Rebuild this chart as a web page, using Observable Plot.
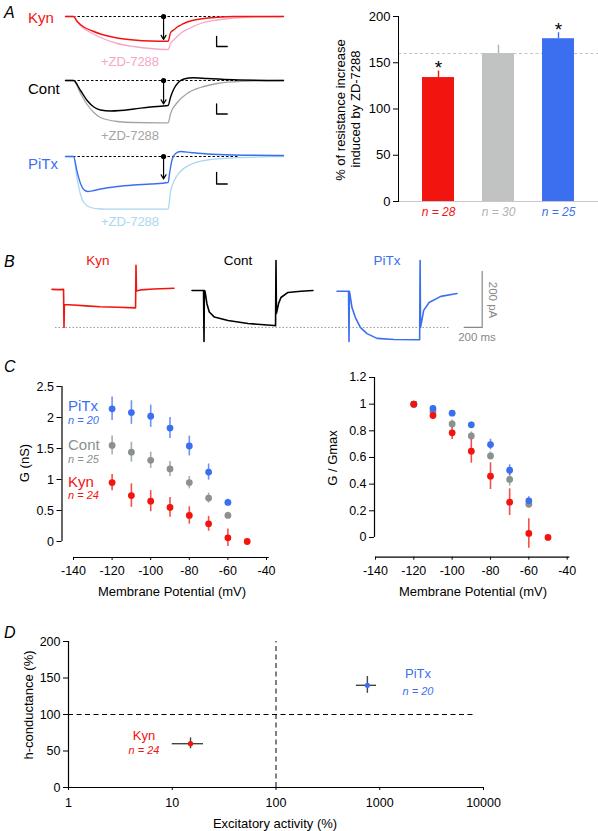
<!DOCTYPE html>
<html><head><meta charset="utf-8">
<script src="https://cdn.jsdelivr.net/npm/d3@7"></script>
<script src="https://cdn.jsdelivr.net/npm/@observablehq/plot@0.6"></script>
<style>
body{margin:0;background:#fff;}
#root{position:relative;width:598px;height:831px;overflow:hidden;font-family:"Liberation Sans",Arial,sans-serif;}
.lbl{position:absolute;white-space:nowrap;line-height:1;}
</style></head><body><div id="root"></div>
<script>
// ---------------- DATA ----------------
// Panel A: voltage traces (time ms, mV relative to baseline)
const kynA   = [[-42,0],[0,0],[20,-1.0],[54,-2.1],[100,-2.9],[142,-3.5],[230,-4.3],[318,-4.7],[405,-4.9],[498,-4.95],[511,-3.2],[530,-2.6],[546,-2.1],[570,-1.6],[598,-1.1],[630,-0.75],[668,-0.5],[756,-0.15],[844,0],[1105,0]];
const kynZD  = [[-42,0],[0,0],[20,-1.1],[54,-2.4],[100,-3.4],[142,-4.2],[230,-5.4],[318,-6.0],[405,-6.4],[498,-6.6],[511,-5.4],[530,-4.6],[546,-4.0],[570,-3.2],[598,-2.6],[668,-1.4],[756,-0.7],[844,-0.3],[932,-0.1],[1105,0]];
const contA  = [[-42,0],[0,0],[37,-2.0],[72,-4.0],[107,-5.3],[142,-5.9],[195,-6.1],[247,-6.0],[318,-5.7],[405,-5.3],[498,-5.0],[511,-3.3],[528,-1.7],[554,-0.3],[581,0.3],[633,0.55],[704,0.4],[844,0.15],[1105,0]];
const contZD = [[-42,0],[0,0],[37,-2.6],[72,-4.8],[107,-6.4],[142,-7.4],[230,-8.2],[318,-8.4],[498,-8.46],[511,-6.6],[546,-4.4],[598,-2.6],[668,-1.4],[756,-0.6],[844,-0.26],[932,-0.1],[1105,0]];
const pitxA  = [[-42,0],[0,0],[19,-3.0],[37,-5.4],[54,-6.6],[75,-7.0],[107,-6.8],[142,-6.5],[230,-6.0],[318,-5.7],[405,-5.5],[498,-5.2],[507,-3.0],[519,-0.6],[537,0.6],[563,1.0],[616,0.8],[704,0.5],[844,0.3],[1105,0.2]];
const pitxZD = [[-42,0],[0,0],[19,-4.4],[37,-7.6],[54,-9.2],[89,-10.2],[142,-10.5],[318,-10.54],[498,-10.54],[511,-7.0],[528,-5.0],[563,-3.0],[616,-1.6],[704,-0.7],[844,-0.26],[1019,-0.06],[1105,0]];
const baselineSpan = [0, 868];          // dashed baseline (ms)
const measureTime = 474;                 // arrow time (ms)
const measureDrop = [-4.6, -4.7, -4.5];  // arrow tips (Kyn, Cont, PiTx)
const scaleBarA_T = [753, 809];
const scaleBarA_V = [[-4.0,-6.0],[-4.7,-6.7],[-3.2,-5.5]];

// Panel A: bar chart
const barCats   = ["Kyn","Cont","PiTx"];
const barValues = [134, 160, 176];
const barErrors = [7, 9, 6.5];
const barN      = ["n = 28","n = 30","n = 25"];
const barStars  = ["*","","*"];
const barRef    = 160;

// Panel B: current traces (ms, pA)
const kynB  = [[-133,4],[-60,3],[-5,4],[0,-132],[4,-50],[100,-52],[250,-55],[400,-58],[600,-60],[795,-62],[800,90],[805,-2],[850,2],[1000,5],[1222,8]];
const contB = [[-133,0],[-5,0],[0,-182],[4,0],[11,-2],[33,-48],[59,-77],[115,-95],[267,-107],[489,-118],[778,-125],[795,-126],[800,107],[805,-82],[830,-45],[855,-25],[933,-7],[1077,-3],[1211,0]];
const pitxB = [[-133,-3],[-5,-3],[0,-182],[4,-3],[10,-12],[33,-61],[70,-96],[126,-132],[200,-154],[311,-171],[500,-175],[785,-176],[790,107],[795,-132],[830,-71],[890,-43],[1020,-21],[1200,-11]];
const steadyRefB = -132;
const scaleBarB_T = [1280, 1480];
const scaleBarB_I = [-132, 68];

// Panel C
const voltages = [-120,-110,-100,-90,-80,-70,-60,-50];
const gPiTx    = [2.14, 2.08, 2.02, 1.83, 1.54, 1.12, 0.63];
const gPiTxErr = [0.19, 0.19, 0.18, 0.17, 0.16, 0.13, 0.05];
const gCont    = [1.55, 1.44, 1.31, 1.17, 0.95, 0.70, 0.42];
const gContErr = [0.15, 0.16, 0.13, 0.12, 0.10, 0.08, 0.05];
const gKyn     = [0.95, 0.74, 0.65, 0.55, 0.42, 0.285, 0.06, 0.0];
const gKynErr  = [0.13, 0.19, 0.17, 0.16, 0.14, 0.12, 0.14, 0.03];
const nPiTx    = [1.0, 0.968, 0.932, 0.845, 0.697, 0.505, 0.275];
const nPiTxErr = [0, 0.02, 0.02, 0.02, 0.04, 0.04, 0.03];
const nCont    = [1.0, 0.945, 0.852, 0.762, 0.612, 0.435, 0.25];
const nContErr = [0, 0.02, 0.03, 0.03, 0.03, 0.05, 0.03];
const nKyn     = [1.0, 0.915, 0.785, 0.647, 0.46, 0.265, 0.03, 0.0];
const nKynErr  = [0, 0.03, 0.05, 0.09, 0.10, 0.10, 0.11, 0.0];

// Panel D
const dCats  = ["Kyn","PiTx"];
const dX     = [15, 760];
const dXLo   = [10, 595];
const dXHi   = [20, 930];
const dY     = [60, 140];
const dYLo   = [53, 129];
const dYHi   = [68, 152];
const dRefX  = 100, dRefY = 100, dRefYEnd = 8000;

// ---------------- STYLE ----------------
const RED="#f2140f", BLUE="#3c6ff0", GRAYD="#8a918e", GRAYBAR="#c0c3c1";
const PINK="#f7a6c8", LBLUE="#a8d8f0", ZDGRAY="#a4a4a4";
const FONT='"Liberation Sans", Arial, sans-serif';
const TICK=12.5;
const root=document.getElementById("root");
const baseStyle={fontFamily:FONT,fontSize:"12.5px",background:"transparent",overflow:"visible",color:"#000"};
function put(el,left,top){el.style.position="absolute";el.style.left=left+"px";el.style.top=top+"px";root.appendChild(el);}
function txt(s,x,y,o={}){
  const d=document.createElement("div");d.className="lbl";d.textContent=s;
  d.style.left=x+"px";d.style.top=y+"px";d.style.fontSize=(o.size||13)+"px";d.style.color=o.color||"#000";
  if(o.italic)d.style.fontStyle="italic";
  const a=o.anchor||"start";const tx=a==="start"?"0":a==="middle"?"-50%":"-100%";
  d.style.transform=`translate(${o.rotate?"-50%":tx},-50%)`+(o.rotate?` rotate(${o.rotate}deg)`:"");
  root.appendChild(d);
}
const px=d=>d[0], py=d=>d[1];

// ---------------- PANEL A traces ----------------
function tracePlotA(ctrl,zd,cCol,zCol,i){
  const sb=[[scaleBarA_T[0],scaleBarA_V[i][0]],[scaleBarA_T[0],scaleBarA_V[i][1]],[scaleBarA_T[1],scaleBarA_V[i][1]]];
  return Plot.plot({
    width:300,height:70,marginTop:5,marginBottom:5,marginLeft:65,marginRight:17,
    x:{domain:[-42,1105],axis:null},y:{domain:[-11,1],axis:null},style:baseStyle,
    marks:[
      Plot.ruleY([0],{x1:baselineSpan[0],x2:baselineSpan[1],stroke:"#000",strokeWidth:1,strokeDasharray:"2.5,2"}),
      Plot.line(zd,{x:px,y:py,stroke:zCol,strokeWidth:1.3,curve:"monotone-x"}),
      Plot.line(ctrl,{x:px,y:py,stroke:cCol,strokeWidth:1.4,curve:"monotone-x"}),
      Plot.arrow([measureDrop[i]],{x1:measureTime,y1:0,x2:measureTime,y2:d=>d,stroke:"#000",strokeWidth:1.2,headLength:6}),
      Plot.dot([0],{x:measureTime,y:d=>d,r:2.6,fill:"#000"}),
      Plot.line(sb,{x:px,y:py,stroke:"#000",strokeWidth:1.3})
    ]});
}
put(tracePlotA(kynA,kynZD,RED,PINK,0),0,6);
put(tracePlotA(contA,contZD,"#000",ZDGRAY,1),0,70);
put(tracePlotA(pitxA,pitxZD,BLUE,LBLUE,2),0,146);

// ---------------- PANEL A bars ----------------
const barColors=[RED,GRAYBAR,BLUE];
const errColors=[RED,"#aeb2b0",BLUE];
const nColors=[RED,"#b0b4b2",BLUE];
const bars=barCats.map((c,i)=>({c,v:barValues[i],e:barErrors[i],fill:barColors[i],ec:errColors[i],n:barN[i],nc:nColors[i],s:barStars[i]}));
put(Plot.plot({
  width:298,height:230,marginTop:16,marginBottom:29,marginLeft:98,marginRight:0,
  x:{domain:barCats,paddingInner:0.475,paddingOuter:0.377,axis:null},
  y:{domain:[0,200],axis:null},
  color:{type:"identity"},style:{...baseStyle,fontSize:"13px"},
  marks:[
    Plot.ruleY([barRef],{stroke:"#c4c4c4",strokeDasharray:"3,2.5"}),
    Plot.ruleX(bars,{x:"c",y1:"v",y2:d=>d.v+d.e,stroke:"ec",strokeWidth:1.4}),
    Plot.barY(bars,{x:"c",y:"v",fill:"fill"}),
    Plot.ruleY([0],{stroke:"#c8c8c8",strokeWidth:1.2}),
    Plot.axisY({ticks:[0,50,100,150,200],tickSize:5,tickPadding:3,label:null,fontSize:13}),
    Plot.frame({anchor:"left",stroke:"#000"}),
    Plot.text(bars.filter(d=>d.s),{x:"c",y:d=>d.v+d.e,text:"s",dy:-3,fontSize:19}),
    Plot.text(bars,{x:"c",y:0,text:"n",fill:"nc",dy:11,fontSize:12,fontStyle:"italic"})
  ]}),300,0);

// ---------------- PANEL B ----------------
const PXMS=0.09, YB=[-200,132], HB=93;
function tracePlotB(data,color,dom,extra=[]){
  return Plot.plot({width:(dom[1]-dom[0])*PXMS,height:HB,margin:0,
    x:{domain:dom,axis:null},y:{domain:YB,axis:null},style:baseStyle,
    marks:[Plot.line(data,{x:px,y:py,stroke:color,strokeWidth:1.6}),...extra]});
}
put(Plot.plot({width:395,height:HB,margin:0,y:{domain:YB,axis:null},style:baseStyle,
  marks:[Plot.ruleY([steadyRefB],{stroke:"#999",strokeDasharray:"1.5,2",strokeWidth:1})]}),55,253);
put(tracePlotB(kynB,RED,[-150,1250]),49.5,253);
put(tracePlotB(contB,"#000",[-150,1250]),189.5,253);
put(tracePlotB(pitxB,BLUE,[-150,1700],[
  Plot.line([[scaleBarB_T[0],scaleBarB_I[0]],[scaleBarB_T[1],scaleBarB_I[0]],[scaleBarB_T[1],scaleBarB_I[1]]],{x:px,y:py,stroke:"#888",strokeWidth:1.2})
]),334.5,253);

// ---------------- PANEL C ----------------
function rows(vals,errs,name){return vals.map((g,i)=>({v:voltages[i],g,e:errs[i],name}));}
function cPlot(series,opts){
  const marks=[
    Plot.ruleX([opts.xd[0]],{y1:0,y2:opts.yTop,stroke:"#000",strokeWidth:1.2}),
    Plot.ruleY([opts.yd[0]],{x1:-140,x2:-38.6,stroke:"#000",strokeWidth:1.2}),
    Plot.axisY({ticks:opts.yt,tickSize:5,tickPadding:3,tickFormat:d=>String(+d.toFixed(1)),label:null,fontSize:TICK}),
    Plot.axisX({ticks:[-140,-120,-100,-80,-60,-40],tickSize:3,tickPadding:5.5,label:null,tickFormat:d=>String(d),fontSize:TICK})
  ];
  for(const s of series){
    marks.push(Plot.ruleX(s.rows.filter(d=>d.e>0),{x:"v",y1:d=>d.g-d.e,y2:d=>d.g+d.e,stroke:s.color,strokeWidth:1.6,strokeOpacity:0.75}));
  }
  for(const s of series){
    marks.push(Plot.dot(s.rows,{x:"v",y:"g",r:3.4,fill:s.color}));
  }
  return Plot.plot({width:opts.w,height:opts.h,marginTop:10,marginBottom:opts.mb,marginLeft:opts.ml,marginRight:opts.mr,
    x:{domain:opts.xd},y:{domain:opts.yd},style:baseStyle,marks});
}
put(cPlot([
  {rows:rows(gCont,gContErr),color:GRAYD},
  {rows:rows(gPiTx,gPiTxErr),color:BLUE},
  {rows:rows(gKyn,gKynErr),color:RED}],
  {w:290,h:221,mb:40,ml:61.5,mr:20,xd:[-145.96,-37.93],yd:[-0.258,2.5],yTop:2.5,yt:[0,0.5,1,1.5,2,2.5]}),0,376);
put(cPlot([
  {rows:rows(nCont,nContErr),color:GRAYD},
  {rows:rows(nPiTx,nPiTxErr),color:BLUE},
  {rows:rows(nKyn,nKynErr),color:RED}],
  {w:298,h:229.7,mb:40,ml:74,mr:27.3,xd:[-140.5,-37.9],yd:[-0.148,1.2],yTop:1.2,yt:[0,0.2,0.4,0.6,0.8,1,1.2]}),300,367);

// ---------------- PANEL D ----------------
const dPts=dCats.map((c,i)=>({c,x:dX[i],xlo:dXLo[i],xhi:dXHi[i],y:dY[i],ylo:dYLo[i],yhi:dYHi[i],col:i?BLUE:RED}));
put(Plot.plot({
  width:598,height:201,marginTop:11,marginBottom:44,marginLeft:68,marginRight:115,
  x:{type:"log",domain:[1,10000]},y:{domain:[0,200]},color:{type:"identity"},style:baseStyle,
  marks:[
    Plot.ruleY([dRefY],{x1:1,x2:dRefYEnd,stroke:"#000",strokeDasharray:"5,3.5",strokeWidth:1}),
    Plot.ruleX([dRefX],{y1:0,y2:200,stroke:"#000",strokeDasharray:"5,3.5",strokeWidth:1}),
    Plot.ruleX([1],{y1:0,y2:200,stroke:"#000",strokeWidth:1.2}),
    Plot.ruleY([0],{x1:1,x2:10000,stroke:"#000",strokeWidth:1.2}),
    Plot.axisY({ticks:[0,50,100,150,200],tickSize:5,tickPadding:3,label:null,fontSize:TICK}),
    Plot.axisX({ticks:[1,10,100,1000,10000],tickSize:3,tickPadding:8,label:null,tickFormat:d=>String(d),fontSize:TICK}),
    Plot.ruleY(dPts,{y:"y",x1:"xlo",x2:"xhi",stroke:"#444",strokeWidth:1.4}),
    Plot.ruleX(dPts,{x:"x",y1:"ylo",y2:"yhi",stroke:"#444",strokeWidth:1.4}),
    Plot.dot(dPts,{x:"x",y:"y",r:2.6,fill:"col"})
  ]}),0,630);

// ---------------- TEXT ----------------
for(const [s,y] of [["A",13],["B",262],["C",367],["D",633]]) txt(s,4,y,{size:16,italic:true});
txt("Kyn",28,17,{size:15,color:RED});
txt("+ZD-7288",130,61,{size:13,color:PINK,anchor:"middle"});
txt("Cont",28,88,{size:15});
txt("+ZD-7288",130,135,{size:13,color:ZDGRAY,anchor:"middle"});
txt("PiTx",28,163,{size:15,color:BLUE});
txt("+ZD-7288",130,221,{size:13,color:LBLUE,anchor:"middle"});
txt("% of resistance increase",340,110,{size:13,rotate:-90});
txt("induced by ZD-7288",355,109,{size:13,rotate:-90});

txt("Kyn",98,261,{size:13.5,color:RED,anchor:"middle"});
txt("Cont",238,261,{size:13.5,anchor:"middle"});
txt("PiTx",387,261,{size:13.5,color:BLUE,anchor:"middle"});
txt("200 pA",492,300,{size:11.5,color:"#888",rotate:90});
txt("200 ms",477,338,{size:11.5,color:"#888",anchor:"middle"});

txt("G (nS)",24,463,{size:13,rotate:-90});
txt("PiTx",68,405,{size:15,color:BLUE});
txt("n = 20",68,420,{size:11,color:BLUE,italic:true});
txt("Cont",68,444,{size:15,color:GRAYD});
txt("n = 25",68,459,{size:11,color:GRAYD,italic:true});
txt("Kyn",68,481,{size:15,color:RED});
txt("n = 24",68,495,{size:11,color:RED,italic:true});
txt("Membrane Potential (mV)",172,591,{size:13,anchor:"middle"});
txt("G / Gmax",332,458,{size:13,rotate:-90});
txt("Membrane Potential (mV)",473,591,{size:13,anchor:"middle"});

txt("h-conductance (%)",28,705,{size:13,rotate:-90});
txt("Excitatory activity (%)",275,823,{size:13,anchor:"middle"});
txt("PiTx",418,673,{size:13,color:BLUE,anchor:"middle"});
txt("n = 20",418,691,{size:11,color:BLUE,italic:true,anchor:"middle"});
txt("Kyn",144,735,{size:13,color:RED,anchor:"middle"});
txt("n = 24",144,750,{size:11,color:RED,italic:true,anchor:"middle"});
</script></body></html>
